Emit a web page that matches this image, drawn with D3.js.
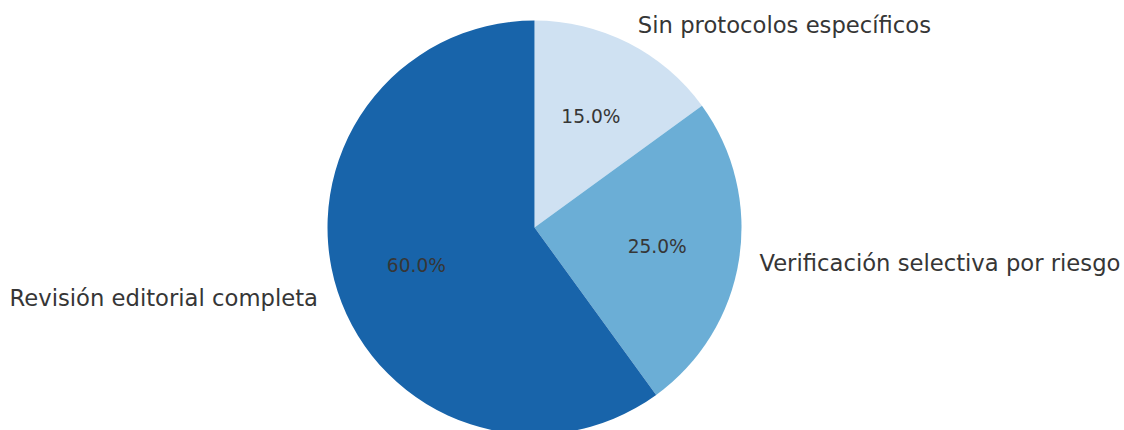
<!DOCTYPE html>
<html>
<head>
<meta charset="utf-8">
<script src="https://cdn.jsdelivr.net/npm/d3@7"></script>
<style>
  html, body { margin: 0; padding: 0; background: #fff; }
  svg { display: block; }
  text { font-family: "DejaVu Sans", sans-serif; fill: #363636; }
</style>
</head>
<body>
<svg id="chart" width="1124" height="430"></svg>
<script>
// Categories and shares (percent), drawn clockwise from 12 o'clock
const categories = ["Sin protocolos específicos", "Verificación selectiva por riesgo", "Revisión editorial completa"];
const shares = [15, 25, 60];
const colors = ["#cfe1f2", "#6baed6", "#1864aa"];

const width = 1124, height = 430;
const cx = 534.5, cy = 227.5, radius = 207;

const svg = d3.select("#chart");
const g = svg.append("g").attr("transform", `translate(${cx},${cy})`);

const data = categories.map((c, i) => ({ category: c, value: shares[i], color: colors[i] }));

const pie = d3.pie().value(d => d.value).sort(null).startAngle(0).endAngle(2 * Math.PI);
const arcs = pie(data);

const arc = d3.arc().innerRadius(0).outerRadius(radius);
const pctArc = d3.arc().innerRadius(radius * 0.6).outerRadius(radius * 0.6);
const labelArc = d3.arc().innerRadius(radius * 1.1).outerRadius(radius * 1.1);

g.selectAll("path.slice")
  .data(arcs)
  .join("path")
  .attr("class", "slice")
  .attr("d", arc)
  .attr("fill", d => d.data.color);

const total = d3.sum(shares);

// Percentage labels inside the wedges
g.selectAll("text.pct")
  .data(arcs)
  .join("text")
  .attr("class", "pct")
  .attr("transform", d => `translate(${pctArc.centroid(d)})`)
  .attr("text-anchor", "middle")
  .attr("dominant-baseline", "central")
  .style("font-size", "18.6px")
  .text(d => (d.data.value / total * 100).toFixed(1) + "%");

// Category labels outside the pie
g.selectAll("text.cat")
  .data(arcs)
  .join("text")
  .attr("class", "cat")
  .attr("transform", d => `translate(${labelArc.centroid(d)})`)
  .attr("text-anchor", d => {
    const mid = (d.startAngle + d.endAngle) / 2;
    return Math.sin(mid) >= 0 ? "start" : "end";
  })
  .attr("dominant-baseline", "central")
  .style("font-size", "22.7px")
  .text(d => d.data.category);
</script>
</body>
</html>
